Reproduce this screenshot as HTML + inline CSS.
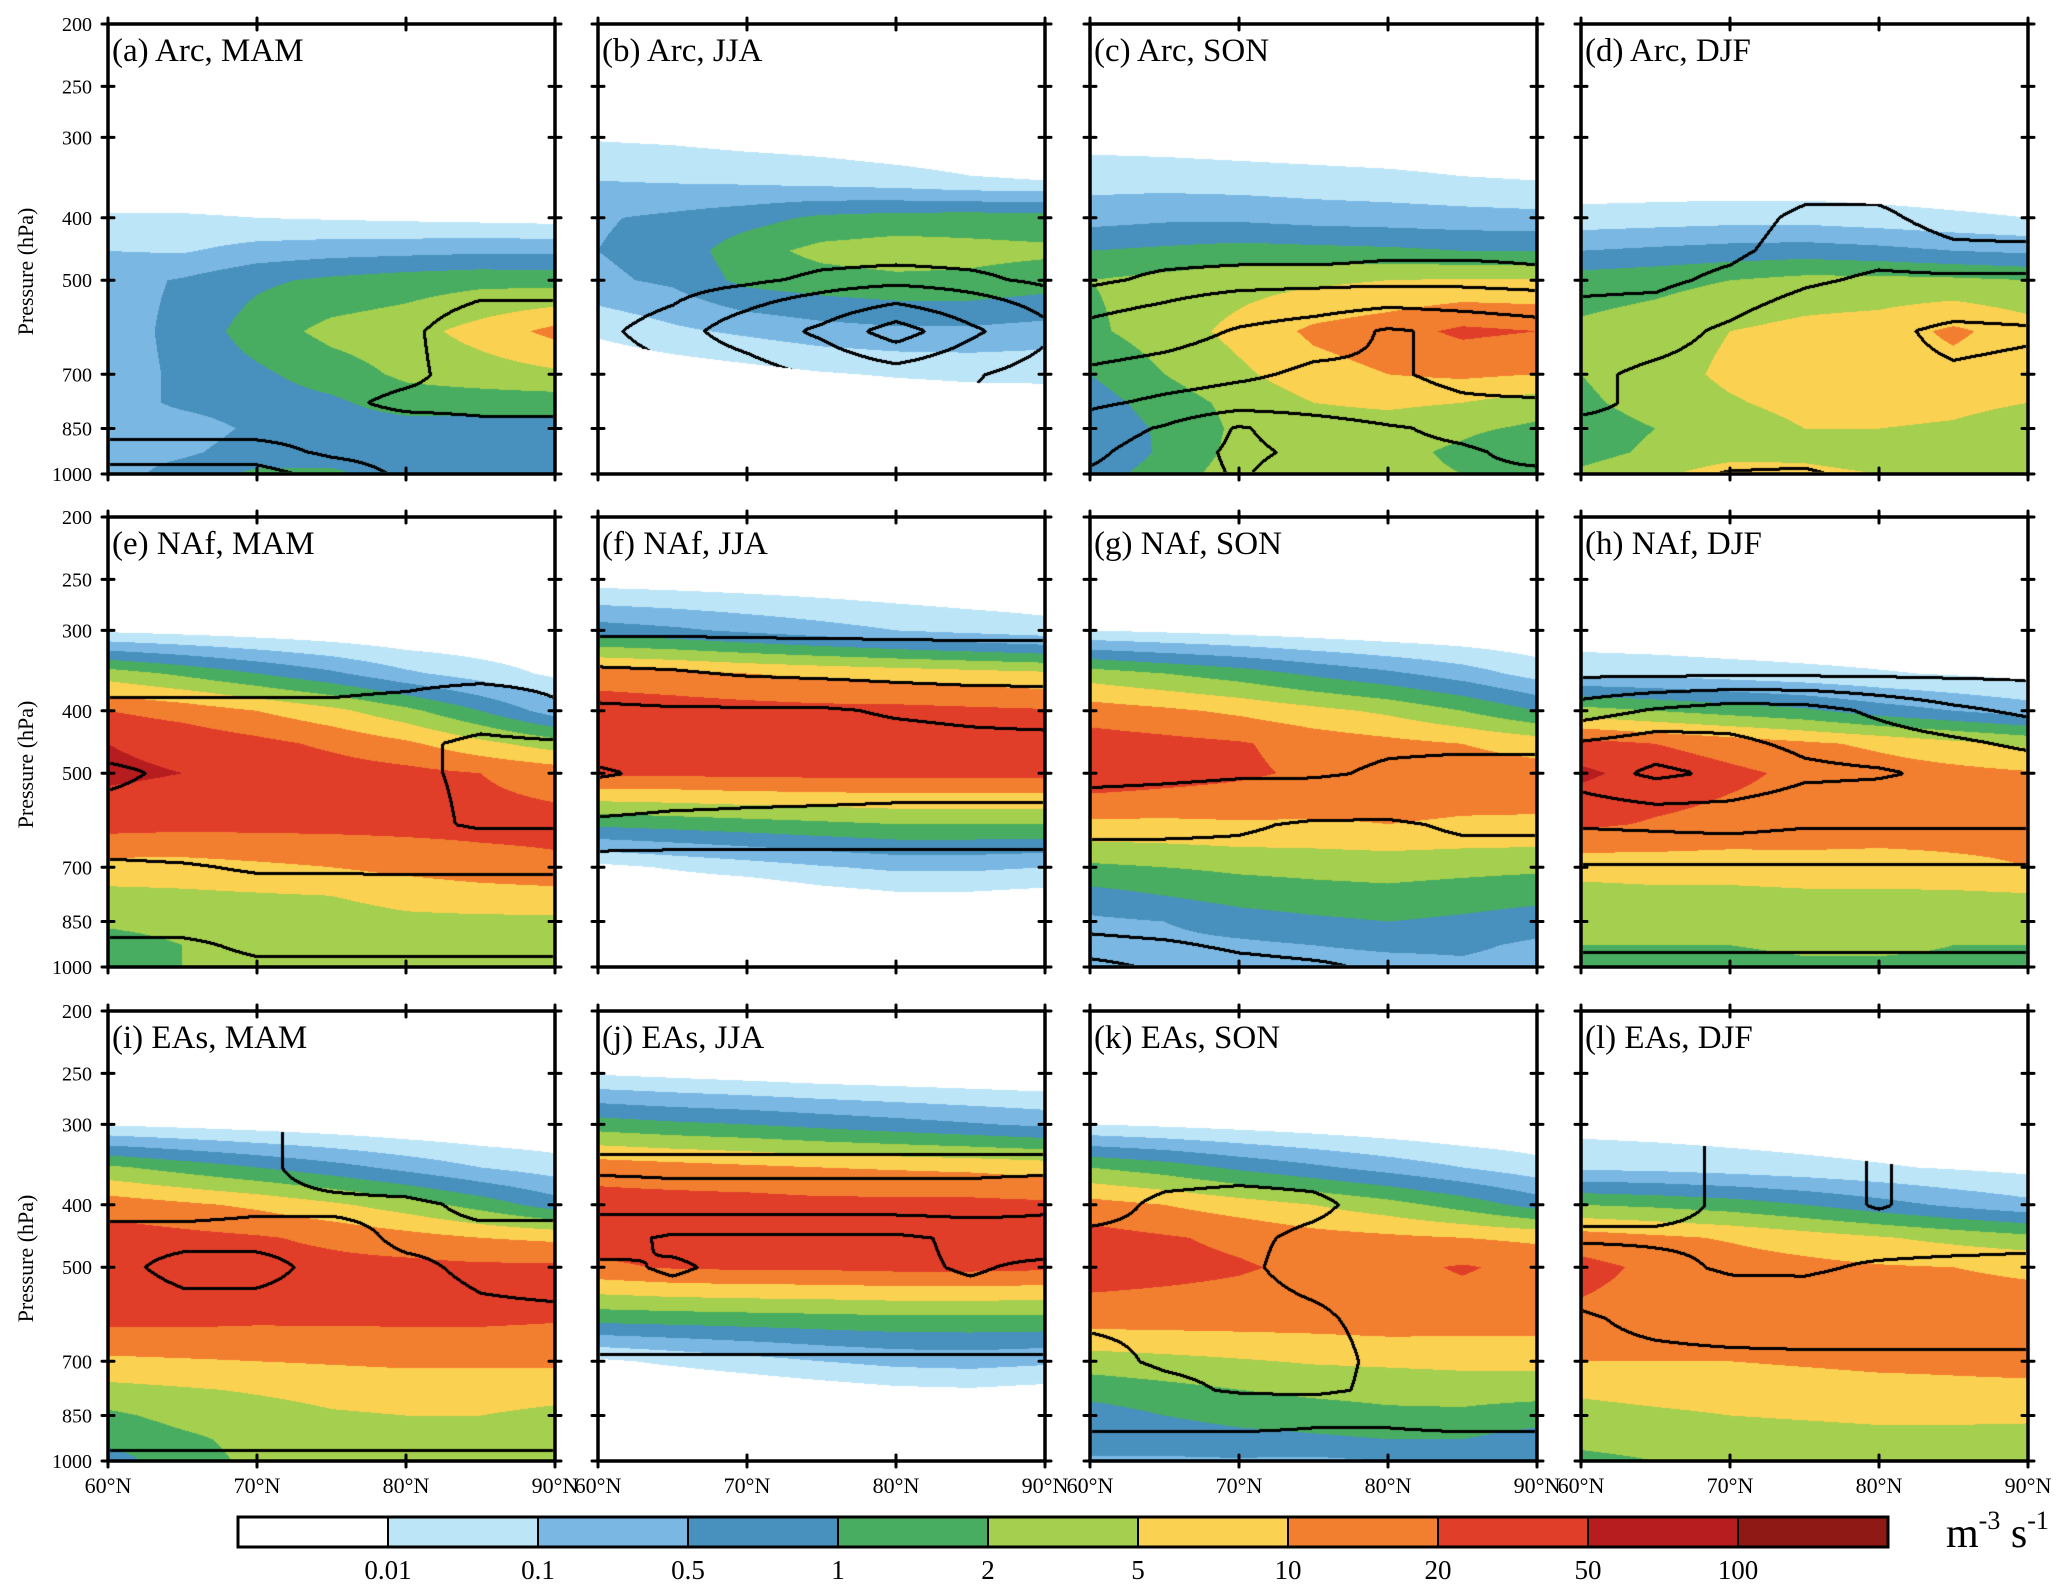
<!DOCTYPE html>
<html><head><meta charset="utf-8">
<style>
html,body{margin:0;padding:0;background:#fff;}
#root{position:relative;width:2067px;height:1595px;overflow:hidden;background:#fff;}
canvas{position:absolute;}
svg{position:absolute;left:0;top:0;}
text{font-family:"Liberation Serif",serif;fill:#000;}
</style></head>
<body>
<div id="root">
<svg id="ov" width="2067" height="1595"></svg>
</div>
<script>
// ---- data ----
const lats = [60,65,70,75,80,85,90];
const levels = [1000,925,850,775,700,600,500,450,400,350,300,250,200];
const pTicks = [200,250,300,400,500,700,850,1000];
const latTicks = ["60°N","70°N","80°N","90°N"];
const cbLabels = ["0.01","0.1","0.5","1","2","5","10","20","50","100"];
const contourLevels = [5,10,20,30,40,50];
const titles = ["(a) Arc, MAM","(b) Arc, JJA","(c) Arc, SON","(d) Arc, DJF","(e) NAf, MAM","(f) NAf, JJA","(g) NAf, SON","(h) NAf, DJF","(i) EAs, MAM","(j) EAs, JJA","(k) EAs, SON","(l) EAs, DJF"];
const Z=[0,0,0,0,0,0,0];
// fill class index (0 white .. 10 darkest red), rows = levels (1000 -> 200), cols = lats
const fillA=[[2.5,3.5,4.2,4.2,3.5,3.5,3.5],[2.5,2.8,3.5,3.5,3.2,3.5,3.5],[2.5,2.5,3.2,3.5,3.5,3.5,3.5],[2.5,3.2,3.5,3.8,4.5,4.5,4.5],[2.5,3.2,3.8,4.5,5.2,5.5,5.8],[2.5,3.3,4.5,5.3,5.6,6.4,7.3],[2.6,3.1,3.8,4.2,4.5,4.7,4.6],[2.0,1.9,2.4,2.6,2.7,2.8,2.8],[1.1,1.1,1.0,0.9,0.8,0.7,0.6],[0.3,0.3,0.3,0.3,0.3,0.3,0.3],Z,Z,Z];
const fillB=[Z,Z,Z,[0,0,0,0,0.3,0.5,0.6],[0,0.3,0.6,0.9,1.1,1.2,1.2],[1.2,1.8,2.2,2.6,2.8,2.8,2.6],[2.8,3.2,4.3,4.6,4.8,4.8,4.5],[3.0,3.4,4.6,5.3,5.5,5.3,5.2],[2.9,3.2,3.6,4.2,4.4,4.5,4.4],[2.0,1.9,1.8,1.6,1.4,1.1,1.0],[0.9,0.8,0.6,0.5,0.3,0.2,0.1],Z,Z];
const fillC=[[3.5,4.5,5.5,5.5,5.3,5.0,4.5],[3.0,4.2,5.3,5.5,5.3,4.8,4.0],[3.2,4.2,5.2,5.5,5.5,5.2,4.8],[3.5,4.5,5.3,6.0,6.2,6.0,5.5],[4.0,5.0,5.8,6.6,7.0,7.2,7.0],[4.8,5.5,6.3,7.2,7.6,8.2,8.0],[5.0,5.3,5.6,5.8,6.0,6.1,6.1],[4.0,4.2,4.4,4.3,4.2,4.0,4.0],[2.6,2.8,2.8,2.6,2.5,2.4,2.3],[1.6,1.6,1.5,1.4,1.3,1.1,1.0],[0.6,0.5,0.4,0.3,0.2,0.1,0],Z,Z];
const fillD=[[5.2,5.8,6.5,6.2,6.0,6.0,5.8],[4.6,5.2,5.6,5.8,5.6,5.5,5.4],[4.5,5.0,5.5,6.0,6.0,5.9,5.6],[4.8,5.4,5.9,6.3,6.3,6.2,6.0],[5.0,5.6,6.2,6.5,6.5,6.6,6.2],[5.2,5.5,6.0,6.3,6.5,7.2,6.5],[4.5,4.7,5.0,5.3,5.3,5.2,5.0],[3.0,3.2,3.4,3.5,3.3,3.0,2.8],[1.4,1.5,1.6,1.6,1.4,1.2,1.0],[0.3,0.3,0.3,0.3,0.3,0.2,0.1],Z,Z,Z];
const fillE=[[4.8,5.0,5.2,5.2,5.3,5.3,5.2],[4.5,5.0,5.3,5.4,5.5,5.5,5.4],[5.2,5.4,5.5,5.6,5.8,5.8,5.8],[5.7,5.8,5.9,6.0,6.3,6.5,6.6],[6.6,6.6,6.8,7.0,7.3,7.6,7.8],[8.4,8.3,8.3,8.3,8.3,8.3,8.3],[9.2,9.0,8.7,8.5,8.3,8.0,7.6],[9.0,8.7,8.3,7.8,7.2,6.3,5.5],[8.0,7.6,7.0,6.3,5.3,4.0,2.5],[5.5,4.8,4.0,3.2,2.2,1.5,0.8],[0.8,0.6,0.4,0.2,0,0,0],Z,Z];
const fillF=[Z,Z,Z,[0,0,0,0.5,0.8,0.8,0.6],[0.7,1.1,1.5,1.9,2.2,2.2,2.0],[4.2,4.4,4.6,4.8,5.0,5.0,5.0],[8.2,8.2,8.3,8.3,8.3,8.3,8.3],[8.8,8.7,8.7,8.6,8.5,8.5,8.4],[8.6,8.5,8.4,8.3,8.3,8.2,8.1],[7.5,7.3,7.0,6.8,6.6,6.4,6.2],[3.5,3.2,2.8,2.4,2.0,1.7,1.4],[0.5,0.4,0.3,0.2,0.1,0,0],Z];
const fillG=[[2.3,2.5,2.6,2.5,2.6,2.8,2.6],[2.5,2.7,2.8,3.0,3.2,3.2,2.8],[2.8,3.0,3.5,3.8,4.0,3.8,3.5],[3.6,4.0,4.4,4.6,4.7,4.5,4.3],[4.8,5.0,5.2,5.3,5.4,5.3,5.2],[6.8,6.8,6.9,6.9,7.0,6.9,6.9],[8.8,8.5,8.2,7.8,7.6,7.5,7.4],[8.5,8.3,8.1,7.6,7.3,7.0,6.6],[7.5,7.2,6.8,6.3,5.8,5.0,4.0],[5.5,5.0,4.5,3.8,3.2,2.5,1.6],[1.0,0.8,0.6,0.4,0.2,0.1,0],Z,Z];
const fillH=[[4.6,4.7,4.8,4.9,4.9,4.9,4.9],[5.0,5.0,5.0,5.1,5.1,5.0,5.0],[5.2,5.2,5.3,5.3,5.3,5.3,5.3],[5.6,5.7,5.7,5.8,5.8,5.8,5.9],[6.4,6.5,6.5,6.6,6.6,6.8,7.0],[8.2,7.9,7.7,7.6,7.5,7.4,7.3],[9.2,8.6,8.2,7.8,7.5,7.3,7.1],[8.4,8.0,7.6,7.2,6.8,6.3,5.8],[5.4,5.0,4.6,4.2,3.5,3.0,2.5],[1.8,1.7,1.5,1.3,1.1,0.9,0.7],[0.2,0.1,0,0,0,0,0],Z,Z];
const fillI=[[3.5,4.6,5.2,5.5,5.6,5.6,5.5],[4.3,4.8,5.3,5.6,5.8,5.8,5.7],[4.8,5.3,5.6,5.9,6.0,6.0,5.8],[5.7,5.9,6.1,6.3,6.4,6.4,6.3],[6.8,6.9,7.0,7.1,7.2,7.2,7.2],[8.3,8.3,8.2,8.2,8.2,8.2,8.1],[8.7,8.5,8.4,8.3,8.3,8.2,8.2],[8.5,8.3,8.1,7.8,7.4,7.0,6.8],[7.6,7.2,6.8,6.2,5.5,4.6,3.5],[5.2,4.6,4.0,3.4,2.7,2.0,1.5],[0.9,0.7,0.5,0.3,0.1,0,0],Z,Z];
const fillJ=[Z,Z,Z,[0,0,0.2,0.5,0.8,0.9,0.7],[0.8,1.2,1.6,2.0,2.3,2.4,2.2],[4.4,4.5,4.6,4.7,4.8,4.8,4.8],[7.8,8.1,8.2,8.2,8.3,8.3,8.2],[8.5,8.5,8.6,8.6,8.5,8.5,8.4],[8.4,8.4,8.4,8.3,8.3,8.3,8.2],[7.6,7.4,7.2,7.0,6.9,6.8,6.6],[4.5,4.2,4.0,3.7,3.4,3.1,2.8],[0.9,0.7,0.5,0.3,0.2,0.1,0],Z];
const fillK=[[3.0,2.9,2.9,2.8,3.0,3.2,3.0],[3.0,3.3,3.6,3.8,4.0,4.0,3.5],[3.5,4.0,4.4,4.6,4.8,4.8,4.5],[4.4,4.7,5.0,5.2,5.3,5.4,5.4],[5.5,5.7,5.9,6.1,6.2,6.3,6.3],[7.5,7.5,7.5,7.5,7.6,7.5,7.5],[8.5,8.3,8.1,7.8,7.7,8.1,7.7],[8.4,8.1,7.8,7.4,7.2,7.0,6.8],[7.4,7.0,6.5,6.0,5.4,4.6,3.6],[5.0,4.5,3.8,3.2,2.6,2.0,1.4],[1.0,0.8,0.6,0.4,0.2,0,0],Z,Z];
const fillL=[[4.8,5.0,5.2,5.3,5.3,5.3,5.2],[5.2,5.3,5.5,5.6,5.7,5.7,5.6],[5.6,5.8,6.0,6.1,6.2,6.2,6.2],[6.2,6.4,6.5,6.6,6.7,6.8,6.8],[7.0,7.0,7.0,7.1,7.2,7.2,7.3],[7.8,7.6,7.4,7.3,7.2,7.3,7.3],[8.3,7.8,7.5,7.3,7.1,7.0,6.9],[7.5,7.2,6.9,6.5,6.1,5.7,5.3],[5.0,4.8,4.5,4.0,3.4,2.8,2.3],[1.8,1.7,1.5,1.3,1.1,0.9,0.7],[0.6,0.5,0.4,0.3,0.2,0.1,0],Z,Z];
// contour field (%), same grid
const contA=[[12,12,12,8,4,4,4],[7,7,7,4,3,4,4],[3,3,3,3,3,4,4],[3,3,3,4,6,6,6],[3,3,3,3,4,7,7],[3,3,3,3,4,8,8],[2,2,2,2,2,3,3],[2,2,2,2,2,2,2],[2,2,2,2,2,2,2],[2,2,2,2,2,2,2],[2,2,2,2,2,2,2],[2,2,2,2,2,2,2],[2,2,2,2,2,2,2]];
const contB=[[3,4,6,9,12,9,6],[3,4,6,9,12,9,6],[3,4,6,9,12,9,6],[3,4,6,9,12,9,6],[3,4,6,11,15,11,6],[4,7,14,22,35,22,12],[2,3,4,6,7,6,4],[1,2,2,3,3,3,3],[1,2,2,3,3,3,3],[1,2,2,3,3,3,3],[1,2,2,3,3,3,3],[1,2,2,3,3,3,3],[1,2,2,3,3,3,3]];
const contC=[[41,45,51,45,41,41,41],[38,45,52,48,42,41,38],[35,41,51,45,41,38,35],[28,32,35,35,33,31,31],[22,25,28,32,31,28,25],[12,15,21,25,31,28,25],[4,6,7,7,7,7,6],[3,3,3,3,4,4,4],[3,3,3,3,4,4,4],[3,3,3,3,4,4,4],[3,3,3,3,4,4,4],[3,3,3,3,4,4,4],[3,3,3,3,4,4,4]];
const contD=[[12,15,21,22,15,12,12],[11,12,13,14,13,12,12],[11,11,12,13,13,12,12],[9,11,12,14,16,16,15],[9,11,12,15,18,19,18],[7,8,11,15,18,22,21],[4,4,6,9,11,11,11],[3,3,4,7,8,6,6],[2,2,3,6,6,3,2],[2,2,2,3,3,2,2],[2,2,2,3,3,2,2],[2,2,2,3,3,2,2],[2,2,2,3,3,2,2]];
const contE=[[15,18,19,19,19,19,19],[19,19,21,21,21,21,21],[22,22,22,22,22,22,22],[25,25,26,26,27,27,27],[28,29,31,31,31,31,31],[38,38,36,36,38,41,41],[41,39,38,38,39,41,42],[38,38,36,36,38,42,41],[31,31,31,31,32,35,31],[28,28,28,28,28,28,28],[28,28,28,28,28,28,28],[28,28,28,28,28,28,28],[28,28,28,28,28,28,28]];
const contF=[[15,15,15,15,15,15,15],[15,15,15,15,15,15,15],[15,15,15,15,15,15,15],[15,15,15,15,15,15,15],[15,15,15,15,15,15,15],[28,27,27,27,27,27,27],[41,38,36,35,34,34,34],[36,35,34,34,33,32,32],[32,31,31,31,29,28,27],[22,21,19,18,17,16,16],[8,8,8,8,8,8,8],[8,8,8,8,8,8,8],[8,8,8,8,8,8,8]];
const contG=[[3,6,8,9,11,12,12],[8,9,11,12,12,12,12],[12,13,14,15,15,15,15],[14,15,16,16,16,16,16],[16,16,17,17,17,17,17],[22,22,21,19,19,21,21],[33,32,31,31,29,28,28],[35,35,34,32,31,31,31],[35,33,32,31,31,31,31],[32,32,32,32,32,32,32],[32,32,32,32,32,32,32],[32,32,32,32,32,32,32],[32,32,32,32,32,32,32]];
const contH=[[8,8,8,8,8,8,8],[11,11,11,11,11,11,11],[12,12,12,12,12,12,12],[15,15,15,15,15,15,15],[19,19,19,19,19,19,19],[31,32,33,31,31,31,31],[45,52,48,42,41,38,36],[41,45,42,38,35,32,28],[25,31,35,34,28,22,18],[8,8,8,8,8,8,8],[8,8,8,8,8,8,8],[8,8,8,8,8,8,8],[8,8,8,8,8,8,8]];
const contI=[[19,19,19,19,19,19,19],[21,21,21,21,21,21,21],[22,22,22,22,22,22,22],[24,24,24,24,24,24,24],[25,25,25,25,25,25,25],[26,27,27,28,28,29,29],[28,32,32,28,29,31,32],[28,28,28,28,31,31,32],[32,32,31,31,31,29,28],[31,32,31,28,26,24,22],[31,32,31,28,26,24,22],[31,32,31,28,26,24,22],[31,32,31,28,26,24,22]];
const contJ=[[19,19,19,19,19,19,19],[19,19,19,19,19,19,19],[19,19,19,19,19,19,19],[19,19,19,19,19,19,19],[19,19,19,19,19,19,19],[25,25,25,25,25,25,25],[28,31,28,28,28,31,28],[35,28,28,28,28,32,35],[42,45,45,45,45,45,42],[52,52,52,52,52,52,52],[45,45,45,45,45,45,45],[45,45,45,45,45,45,45],[45,45,45,45,45,45,45]];
const contK=[[18,18,18,18,18,18,18],[19,19,19,19,19,19,19],[22,22,22,21,21,22,22],[25,28,31,32,28,25,25],[28,31,32,33,28,26,26],[31,31,32,31,28,28,28],[32,31,31,28,28,28,28],[31,31,31,29,28,28,28],[28,31,32,31,28,28,28],[28,28,28,28,28,28,28],[28,28,28,28,28,28,28],[28,28,28,28,28,28,28],[28,28,28,28,28,28,28]];
const contL=[[15,15,15,15,15,15,15],[16,16,16,16,16,16,16],[17,17,17,17,17,17,17],[18,18,18,18,18,18,18],[18,18,18,18,18,18,18],[19,22,24,25,25,25,25],[25,28,31,31,29,28,28],[31,31,31,32,33,33,32],[28,28,31,35,41,35,31],[28,28,31,35,41,35,31],[28,28,31,35,41,35,31],[28,28,31,35,41,35,31],[28,28,31,35,41,35,31]];
const fills=[fillA,fillB,fillC,fillD,fillE,fillF,fillG,fillH,fillI,fillJ,fillK,fillL];
const conts=[contA,contB,contC,contD,contE,contF,contG,contH,contI,contJ,contK,contL];

// ---- layout ----
const colX=[108,598,1090,1581], rowY=[24,517,1011], PW=447, PH=450;
const palette=['#ffffff','#bde5f8','#7ab8e3','#4890bd','#48ad60','#a5cf4e','#fbd151','#f27f2f','#e03e29','#b71c1f','#8f1a15'];
const pal=palette.map(h=>[parseInt(h.substr(1,2),16),parseInt(h.substr(3,2),16),parseInt(h.substr(5,2),16)]);
const lnTop=Math.log(200), lnBot=Math.log(1000);
function yOf(p){return PH*(Math.log(p)-lnTop)/(lnBot-lnTop);}
function xOf(lat){return PW*(lat-60)/30;}
const lnLev=levels.map(Math.log);
function sample(g,lat,lp){
  let fx=(lat-lats[0])/5; let i=Math.min(Math.max(Math.floor(fx),0),lats.length-2); let tx=fx-i;
  let j=0; while(j<levels.length-2 && lp<lnLev[j+1]) j++;
  let ty=(lnLev[j]-lp)/(lnLev[j]-lnLev[j+1]); ty=Math.max(0,Math.min(1,ty));
  const a=g[j][i],b=g[j][i+1],c=g[j+1][i],d=g[j+1][i+1];
  return (a*(1-tx)+b*tx)*(1-ty)+(c*(1-tx)+d*tx)*ty;
}
const root=document.getElementById('root');
const svg=document.getElementById('ov');
const NS='http://www.w3.org/2000/svg';
function mk(tag,attrs,parent){const e=document.createElementNS(NS,tag);for(const k in attrs)e.setAttribute(k,attrs[k]);(parent||svg).appendChild(e);return e;}

for(let k=0;k<12;k++){
  const r=Math.floor(k/4), c=k%4, X=colX[c], Y=rowY[r];
  const cv=document.createElement('canvas');
  cv.width=PW; cv.height=PH;
  cv.style.left=X+'px'; cv.style.top=Y+'px';
  
  
  root.insertBefore(cv,svg);
  const ctx=cv.getContext('2d'); const img=ctx.createImageData(PW,PH);
  const lev=new Int8Array(PW*PH); const fv=new Int8Array(PW*PH);
  for(let y=0;y<PH;y++){
    const lp=lnTop+(lnBot-lnTop)*(y+0.5)/PH;
    for(let x=0;x<PW;x++){
      const lat=60+30*(x+0.5)/PW;
      let v=Math.floor(sample(fills[k],lat,lp)); v=Math.max(0,Math.min(10,v));
      fv[y*PW+x]=v;
      const cc=sample(conts[k],lat,lp); let n=0; for(const L of contourLevels) if(cc>=L) n++;
      lev[y*PW+x]=n;
      const o=(y*PW+x)*4; img.data[o]=pal[v][0];img.data[o+1]=pal[v][1];img.data[o+2]=pal[v][2];img.data[o+3]=255;
    }
  }
  for(let y=2;y<PH-2;y++)for(let x=2;x<PW-2;x++){
    if(fv[y*PW+x]===0) continue;
    const n=lev[y*PW+x]; let edge=false;
    for(let dy=-2;dy<=2&&!edge;dy++)for(let dx=-2;dx<=2;dx++){
      const m=lev[(y+dy)*PW+x+dx];
      if(Math.abs(dx)<=1&&Math.abs(dy)<=1){ if(m!==n){edge=true;break;} }
      else if(m>n && Math.abs(dx)+Math.abs(dy)<=2){edge=true;break;}
    }
    if(edge){const o=(y*PW+x)*4;img.data[o]=0;img.data[o+1]=0;img.data[o+2]=0;}
  }
  ctx.putImageData(img,0,0);
  // frame
  const g=mk('g',{});
  
  
  mk('rect',{x:X,y:Y,width:PW,height:PH,fill:'none',stroke:'#000','stroke-width':3.5},g);
  for(const p of pTicks){const ty=Y+yOf(p);
    mk('line',{x1:X-6,x2:X+6,y1:ty,y2:ty,stroke:'#000','stroke-width':3,'stroke-linecap':'round'},g);
    mk('line',{x1:X+PW-6,x2:X+PW+6,y1:ty,y2:ty,stroke:'#000','stroke-width':3,'stroke-linecap':'round'},g);}
  for(let t=0;t<4;t++){const tx=X+xOf(60+10*t);
    mk('line',{x1:tx,x2:tx,y1:Y-6,y2:Y+6,stroke:'#000','stroke-width':3,'stroke-linecap':'round'},g);
    mk('line',{x1:tx,x2:tx,y1:Y+PH-6,y2:Y+PH+6,stroke:'#000','stroke-width':3,'stroke-linecap':'round'},g);}
  const tt=mk('text',{x:X+4,y:Y+37,'font-size':33});
  tt.textContent=titles[k];
  
  
  if(c===0){
    for(const p of pTicks){const t=mk('text',{x:92,y:Y+yOf(p)+7,'font-size':20,'text-anchor':'end'});t.textContent=p;
      
      }
    const yl=mk('text',{x:0,y:0,'font-size':22,'text-anchor':'middle',transform:`translate(33,${Y+PH*0.55}) rotate(-90)`});
    yl.textContent='Pressure (hPa)';
    
    
  }
  if(r===2){
    for(let t=0;t<4;t++){const lx=mk('text',{x:X+xOf(60+10*t),y:Y+PH+32,'font-size':22,'text-anchor':'middle'});lx.textContent=latTicks[t];
      
      }
  }
}
// colorbar
const cbX=238, cbY=1517, cbW=150, cbH=30;
const cb=mk('g',{});


for(let i=0;i<palette.length;i++){
  const rc=mk('rect',{x:cbX+i*cbW,y:cbY,width:cbW,height:cbH,fill:palette[i],stroke:'#000','stroke-width':2},cb);
  
  
}
mk('rect',{x:cbX,y:cbY,width:cbW*palette.length,height:cbH,fill:'none',stroke:'#000','stroke-width':3},cb);
for(let i=0;i<cbLabels.length;i++){
  const t=mk('text',{x:cbX+(i+1)*cbW,y:1579,'font-size':27,'text-anchor':'middle'},cb);t.textContent=cbLabels[i];
  
  
}
const u=mk('text',{x:1946,y:1547,'font-size':42});
u.innerHTML='m<tspan font-size="26" dy="-18">-3</tspan><tspan dy="18"> s</tspan><tspan font-size="26" dy="-18">-1</tspan>';


</script>
</body></html>
